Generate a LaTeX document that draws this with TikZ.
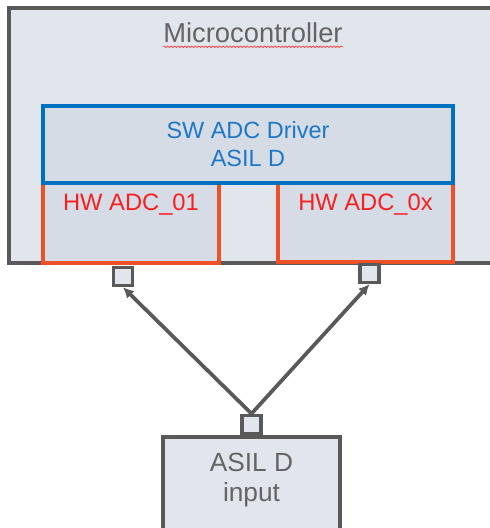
\documentclass[tikz,border=0pt]{standalone}
\usepackage{fontspec}
\setmainfont{Liberation Sans}
\usetikzlibrary{positioning, arrows.meta, decorations.pathmorphing}
\definecolor{mcufill}{RGB}{225,229,236}
\definecolor{boxfill}{RGB}{213,220,229}
\definecolor{edgegray}{RGB}{89,89,89}
\definecolor{swblue}{RGB}{0,112,192}
\definecolor{swtext}{RGB}{30,120,200}
\definecolor{hwedge}{RGB}{238,80,40}
\definecolor{hwtext}{RGB}{250,30,30}
\definecolor{txtgray}{RGB}{100,100,100}
\tikzstyle{mcubox} = [
rectangle,
draw=edgegray,
fill=mcufill,
line width=2.8pt
]
\tikzstyle{swbox} = [rectangle,
draw=swblue, fill=boxfill,
line width=2.8pt,
align=center, text=swtext,
font=\fontsize{17.6}{21}\selectfont]
\tikzstyle{hwbox} = [rectangle,
draw=hwedge, fill=boxfill,
line width=2.8pt]
\tikzstyle{hwlabel} = [anchor=north, inner sep=9.5pt, text=hwtext,
font=\fontsize{17.8}{21}\selectfont]
\tikzstyle{inbox} = [rectangle,
draw=edgegray, fill=mcufill,
line width=2.8pt]
\tikzstyle{port} = [rectangle, draw=edgegray, fill=mcufill,
line width=2.6pt, inner sep=0pt,
minimum width=14pt, minimum height=13.5pt]
\tikzstyle{arrow} = [-{Latex[length=8pt,width=8pt]}, draw=edgegray, line width=2.8pt]
\tikzstyle{spell} = [draw=red!80, line width=0.5pt,
decorate, decoration={snake, amplitude=0.6pt, segment length=2.6pt}]

\begin{document}
\begin{tikzpicture}[x=0.75pt, y=-0.75pt]
      \useasboundingbox (0,0) rectangle (489,528);
      \node (mcu) [mcubox, minimum width=368pt, minimum height=191pt] at (254.5,135.5) {};
      \node (mcutitle) [inner sep=0pt, text=txtgray, font=\fontsize{20.5}{24}\selectfont] at (253,33) {Microcontroller};
      \draw [spell] ([yshift=-2.6pt]mcutitle.south west) -- ([yshift=-2.6pt]mcutitle.south east);
      \node (hw01) [hwbox, minimum width=132pt, minimum height=60pt,
        label={[hwlabel]north:HW ADC\_01}] at (131,223) {};
      \node (hw0x) [hwbox, minimum width=131pt, minimum height=59pt,
        label={[hwlabel]north:HW ADC\_0x}] at (365.5,222.5) {};
      \node (sw) [swbox, minimum width=307.5pt, minimum height=57.5pt] at (248,144.5) {SW ADC Driver\\ASIL D};
      \node (input) [inbox, minimum width=133pt, minimum height=81pt,
        label={[anchor=north, inner sep=13pt, align=center, text=txtgray,
        font=\fontsize{19.7}{22.5}\selectfont]north:ASIL D\\input}] at (251.5,491) {};
      \node (p01) [port] at (123,276.5) {};
      \node (p0x) [port] at (369.5,273.5) {};
      \node (pin) [port, above=0pt of input] {};
      \draw [arrow] (pin.north) -- (p01.south);
      \draw [arrow] (pin.north) -- (p0x.south);
      \end{tikzpicture}
\end{document}
